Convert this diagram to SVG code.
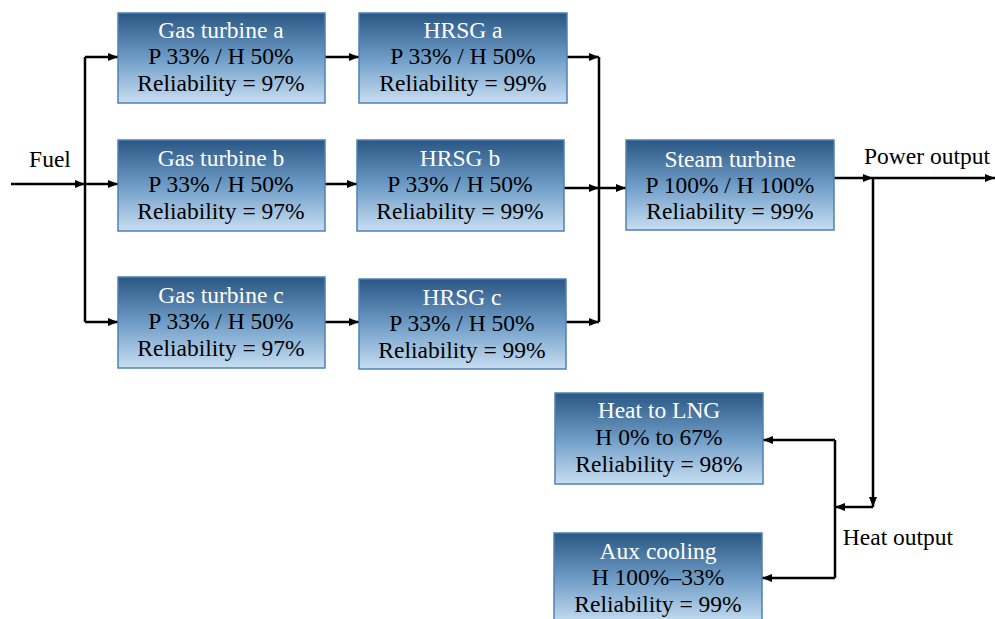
<svg xmlns="http://www.w3.org/2000/svg" width="995" height="619" viewBox="0 0 995 619">
  <style>
    text { font-family: "Liberation Serif", "Times New Roman", "DejaVu Serif", serif; font-size: 23.5px; }
    .box { stroke: #4f81b3; stroke-width: 1.5; fill: url(#boxFill); }
    .ttl { fill: #ffffff; text-anchor: middle; }
    .txt { fill: #000000; text-anchor: middle; }
    .lbl { fill: #000000; text-anchor: middle; }
    .wire { fill: none; stroke: #000000; stroke-width: 2.5; }
  </style>
  <defs>
    <linearGradient id="boxFill" x1="0" y1="0" x2="0" y2="1">
      <stop offset="0" stop-color="#2a5683"/>
      <stop offset="0.5" stop-color="#6e9cc6"/>
      <stop offset="1" stop-color="#c7def2"/>
    </linearGradient>
    <marker id="arr" viewBox="0 0 10 8" refX="10" refY="4" markerWidth="10" markerHeight="8" markerUnits="userSpaceOnUse" orient="auto">
      <path d="M0,0 L10,4 L0,8 Z" fill="#000000"/>
    </marker>
  </defs>

  <g id="connectors">
    <!-- fuel feed and distribution bus -->
    <line class="wire" x1="11" y1="184" x2="85" y2="184" marker-end="url(#arr)"/>
    <line class="wire" x1="85" y1="57" x2="85" y2="322"/>
    <line class="wire" x1="85" y1="57" x2="118" y2="57" marker-end="url(#arr)"/>
    <line class="wire" x1="85" y1="184" x2="118" y2="184" marker-end="url(#arr)"/>
    <line class="wire" x1="85" y1="322" x2="118" y2="322" marker-end="url(#arr)"/>
    <!-- gas turbine to HRSG -->
    <line class="wire" x1="325" y1="57" x2="359" y2="57" marker-end="url(#arr)"/>
    <line class="wire" x1="325" y1="184" x2="357" y2="184" marker-end="url(#arr)"/>
    <line class="wire" x1="325" y1="322" x2="359" y2="322" marker-end="url(#arr)"/>
    <!-- HRSG collector bus -->
    <line class="wire" x1="567" y1="57" x2="599" y2="57" marker-end="url(#arr)"/>
    <line class="wire" x1="564" y1="188" x2="599" y2="188" marker-end="url(#arr)"/>
    <line class="wire" x1="566" y1="322" x2="599" y2="322" marker-end="url(#arr)"/>
    <line class="wire" x1="599" y1="57" x2="599" y2="322"/>
    <line class="wire" x1="599" y1="188" x2="626" y2="188" marker-end="url(#arr)"/>
    <!-- steam turbine outputs -->
    <line class="wire" x1="834" y1="178" x2="873" y2="178" marker-end="url(#arr)"/>
    <line class="wire" x1="873" y1="178" x2="995" y2="178" marker-end="url(#arr)"/>
    <line class="wire" x1="873" y1="178" x2="873" y2="507" marker-end="url(#arr)"/>
    <line class="wire" x1="873" y1="507" x2="835" y2="507" marker-end="url(#arr)"/>
    <line class="wire" x1="835" y1="440" x2="835" y2="578"/>
    <line class="wire" x1="835" y1="440" x2="763" y2="440" marker-end="url(#arr)"/>
    <line class="wire" x1="835" y1="578" x2="762" y2="578" marker-end="url(#arr)"/>
  </g>

  <g id="labels">
    <text class="lbl" x="50" y="167">Fuel</text>
    <text class="lbl" x="927" y="164">Power output</text>
    <text class="lbl" x="898" y="545">Heat output</text>
  </g>

  <g id="gt-a">
    <rect class="box" x="118" y="13" width="207" height="90"/>
    <text class="ttl" x="221" y="38">Gas turbine a</text>
    <text class="txt" x="221" y="64">P 33% / H 50%</text>
    <text class="txt" x="221" y="91">Reliability = 97%</text>
  </g>
  <g id="gt-b">
    <rect class="box" x="118" y="140" width="207" height="91"/>
    <text class="ttl" x="221" y="166">Gas turbine b</text>
    <text class="txt" x="221" y="192">P 33% / H 50%</text>
    <text class="txt" x="221" y="219">Reliability = 97%</text>
  </g>
  <g id="gt-c">
    <rect class="box" x="118" y="277" width="207" height="91"/>
    <text class="ttl" x="221" y="303">Gas turbine c</text>
    <text class="txt" x="221" y="329">P 33% / H 50%</text>
    <text class="txt" x="221" y="356">Reliability = 97%</text>
  </g>

  <g id="hrsg-a">
    <rect class="box" x="359" y="13" width="208" height="90"/>
    <text class="ttl" x="463" y="38">HRSG a</text>
    <text class="txt" x="463" y="64">P 33% / H 50%</text>
    <text class="txt" x="463" y="91">Reliability = 99%</text>
  </g>
  <g id="hrsg-b">
    <rect class="box" x="357" y="140" width="207" height="91"/>
    <text class="ttl" x="460" y="166">HRSG b</text>
    <text class="txt" x="460" y="192">P 33% / H 50%</text>
    <text class="txt" x="460" y="219">Reliability = 99%</text>
  </g>
  <g id="hrsg-c">
    <rect class="box" x="359" y="279" width="207" height="90"/>
    <text class="ttl" x="462" y="305">HRSG c</text>
    <text class="txt" x="462" y="331">P 33% / H 50%</text>
    <text class="txt" x="462" y="358">Reliability = 99%</text>
  </g>

  <g id="steam-turbine">
    <rect class="box" x="626" y="140" width="208" height="90"/>
    <text class="ttl" x="730" y="167">Steam turbine</text>
    <text class="txt" x="730" y="193">P 100% / H 100%</text>
    <text class="txt" x="730" y="219">Reliability = 99%</text>
  </g>

  <g id="heat-to-lng">
    <rect class="box" x="555" y="393" width="208" height="91"/>
    <text class="ttl" x="659" y="418">Heat to LNG</text>
    <text class="txt" x="659" y="445">H 0% to 67%</text>
    <text class="txt" x="659" y="472">Reliability = 98%</text>
  </g>
  <g id="aux-cooling">
    <rect class="box" x="554" y="533" width="208" height="91"/>
    <text class="ttl" x="658" y="559">Aux cooling</text>
    <text class="txt" x="658" y="585">H 100%–33%</text>
    <text class="txt" x="658" y="612">Reliability = 99%</text>
  </g>
</svg>
